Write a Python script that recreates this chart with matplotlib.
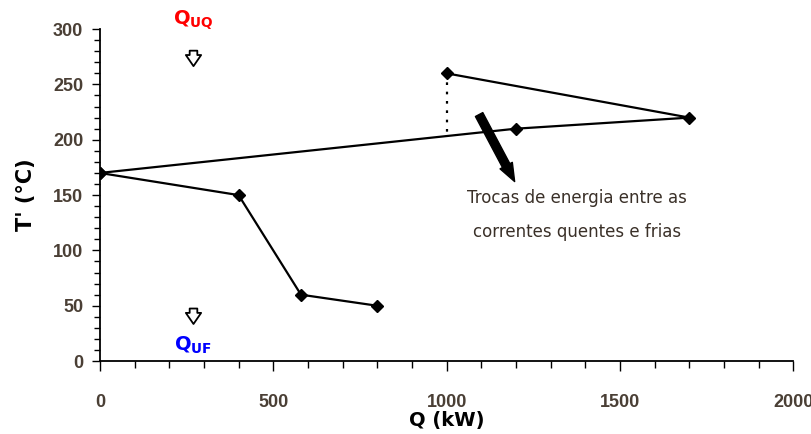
import matplotlib
matplotlib.use("Agg")
import matplotlib.pyplot as plt
from matplotlib.ticker import MultipleLocator

# hot / cold composite curves
cold_q = [0, 1200, 1700, 1000]
cold_t = [170, 210, 220, 260]
hot_q = [0, 400, 580, 800]
hot_t = [170, 150, 60, 50]

# vertical dotted link
link_q = [1000, 1000]
link_t = [260, 203]

tick_color = "#4a3f35"

fig = plt.figure(figsize=(8.12, 4.34), dpi=100)
ax = fig.add_axes([0.123, 0.168, 0.854, 0.765])

ax.plot(cold_q, cold_t, color="black", linewidth=1.6, marker="D", markersize=6)
ax.plot(hot_q, hot_t, color="black", linewidth=1.6, marker="D", markersize=6)
ax.plot(link_q, link_t, color="black", linewidth=1.6, linestyle=(0, (1.2, 3)))

# big arrow pointing at the note
ax.annotate("", xy=(1200, 160), xytext=(1090, 225),
            arrowprops=dict(arrowstyle="simple,head_width=1.0,head_length=1.3,tail_width=0.6",
                            fc="black", ec="black"))

ax.text(1375, 132, "Trocas de energia entre as\ncorrentes quentes e frias",
        ha="center", va="center", fontsize=12, color="#3a3028", linespacing=2.1)

# utilities
ax.text(270, 308, r"$\mathbf{Q_{UQ}}$", color="red", fontsize=14,
        ha="center", va="center", clip_on=False)
arrow_style = "simple,head_width=1.1,head_length=0.8,tail_width=0.55"
ax.annotate("", xy=(270, 264), xytext=(270, 283),
            arrowprops=dict(arrowstyle=arrow_style, fc="white", ec="black", lw=1.3))
ax.annotate("", xy=(270, 31), xytext=(270, 50),
            arrowprops=dict(arrowstyle=arrow_style, fc="white", ec="black", lw=1.3))
ax.text(270, 14, r"$\mathbf{Q_{UF}}$", color="blue", fontsize=14,
        ha="center", va="center")

ax.set_xlim(0, 2000)
ax.set_ylim(0, 300)
ax.xaxis.set_major_locator(MultipleLocator(500))
ax.xaxis.set_minor_locator(MultipleLocator(100))
ax.yaxis.set_major_locator(MultipleLocator(50))
ax.yaxis.set_minor_locator(MultipleLocator(10))

for side in ["top", "right"]:
    ax.spines[side].set_visible(False)
ax.spines["left"].set_linewidth(1.3)
ax.spines["bottom"].set_linewidth(1.3)

ax.tick_params(axis="x", which="major", length=7, width=1, pad=17,
               labelsize=13, labelcolor=tick_color)
ax.tick_params(axis="x", which="minor", length=5, width=1)
ax.tick_params(axis="y", which="major", length=6, width=1, pad=6,
               labelsize=13, labelcolor=tick_color)
ax.tick_params(axis="y", which="minor", length=4, width=1)
for lab in ax.get_xticklabels() + ax.get_yticklabels():
    lab.set_fontweight("bold")
    lab.set_family("Liberation Sans")

ax.set_xlabel("Q (kW)", fontsize=14, fontweight="bold", labelpad=0)
ax.set_ylabel("T' (°C)", fontsize=15, fontweight="bold", labelpad=12)

fig.savefig("out.png", dpi=100)
